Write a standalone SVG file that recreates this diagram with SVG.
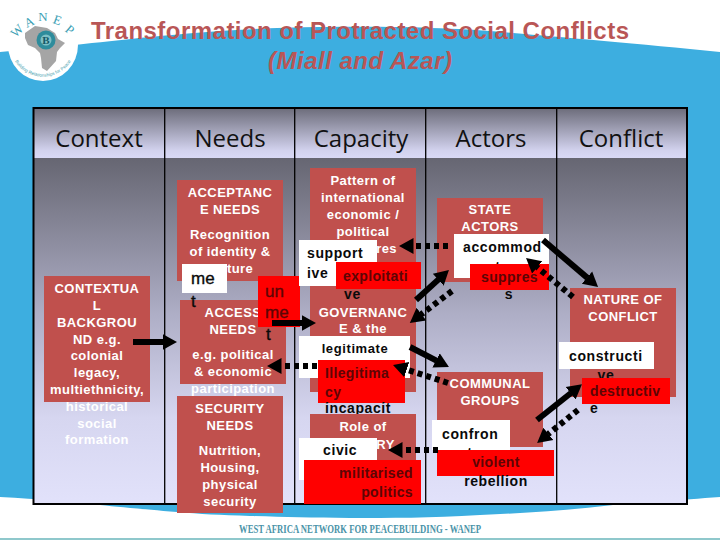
<svg xmlns="http://www.w3.org/2000/svg" width="720" height="540" viewBox="0 0 720 540">
<style>
text{font-family:"Liberation Sans",Arial,sans-serif}
.t{font-size:24px;font-weight:700;fill:#b95656;text-anchor:middle}
.h{font-family:"Open Sans","Noto Sans",sans-serif;font-size:24px;fill:#111;text-anchor:middle}
.b{fill:#c0504d}
.w{fill:#fff}
.r{fill:#f00}
.n{font-size:13px;font-weight:700;fill:#fff;text-anchor:middle;letter-spacing:.45px}
.k{font-size:14px;font-weight:700;fill:#0a0a0a;letter-spacing:.6px}
.d{font-size:14px;font-weight:700;fill:#5c0505;letter-spacing:.35px}
.m{text-anchor:middle}
.e{text-anchor:end}
.g{font-size:17px;fill:#0a0a0a;stroke:#0a0a0a;stroke-width:.35px}
.u{fill:#5c0505;stroke:#5c0505}
.s{fill:none;stroke:#000;stroke-width:6}
.o{stroke-dasharray:5 4}
.col{stroke:#000;stroke-width:1.3}
.lg{font-family:"Liberation Serif",serif;font-size:12px;fill:#3d9fb5;text-anchor:middle}
</style>
<defs>
<linearGradient id="hd" x1="0" y1="108" x2="0" y2="158" gradientUnits="userSpaceOnUse"><stop offset="0" stop-color="#6c6c7a"/><stop offset=".85" stop-color="#d2d2ee"/><stop offset="1" stop-color="#d9d9f6"/></linearGradient>
<linearGradient id="bd" x1="0" y1="158" x2="0" y2="505" gradientUnits="userSpaceOnUse"><stop offset="0" stop-color="#666672"/><stop offset=".45" stop-color="#aeaec6"/><stop offset=".75" stop-color="#d6d6f0"/><stop offset="1" stop-color="#e2e2fb"/></linearGradient>
<marker id="ah" markerUnits="userSpaceOnUse" markerWidth="16" markerHeight="20" refX="0.5" refY="10" orient="auto"><path d="M0 2L14.5 10L0 18Z" fill="#000"/></marker>
<path id="arcb" d="M12 55A33 33 0 0 0 74 55"/>
</defs>
<rect width="720" height="540" fill="#fff"/>
<path d="M0 52C60 47 90 43 150 37C200 32 250 28 320 27C400 26 460 28 513 33C560 37 640 44 720 52V497C680 500 640 503 613 505C570 510 530 513 480 515C430 518 390 518 350 518C310 518 283 517 250 516C220 515 200 514 177 512C140 509 120 507 100 505C70 502 40 499 0 497Z" fill="#3daee0"/>
<rect y="538" width="720" height="2" fill="#8fc8cc"/>
<g id="logo">
<ellipse cx="43" cy="45" rx="35" ry="36" fill="#fff"/>
<path d="M25 33L35 26L47 28L55 33L58 39L65 43L60 48L57 52L56 61L47 71L42 68L41 58L40 53L35 48L28 45L25 38Z" fill="#a5a5a5"/>
<circle cx="46" cy="40" r="9.500" fill="#2e8c9c"/>
<circle cx="46" cy="40" r="5.500" fill="#7fc0c6"/>
<text class="lg" x="46" y="44" font-weight="700" style="font-size:11px;fill:#145a68">B</text>
<text class="lg" x="20" y="34" transform="rotate(-45 20 34)" style="font-size:13px">W</text>
<text class="lg" x="31" y="26" transform="rotate(-25 31 26)" style="font-size:13px">A</text>
<text class="lg" x="43" y="21" style="font-size:13px">N</text>
<text class="lg" x="56" y="24" transform="rotate(20 56 24)" style="font-size:13px">E</text>
<text class="lg" x="67" y="33" transform="rotate(40 67 33)" style="font-size:13px">P</text>
<text style="font-size:4.6px;fill:#4a9fb0" text-anchor="middle"><textPath href="#arcb" startOffset="50%">Building Relationships for Peace</textPath></text>
</g>
<g id="title">
<text class="t" x="360" y="39" textLength="538">Transformation of Protracted Social Conflicts</text>
<text class="t" x="360" y="69" font-style="italic" textLength="184">(Miall and Azar)</text>
</g>
<g id="table">
<rect x="33.500" y="108" width="653.500" height="50" fill="url(#hd)"/>
<rect x="33.500" y="158" width="653.500" height="346" fill="url(#bd)"/>
<rect x="33.500" y="108" width="653.500" height="396" fill="none" stroke="#000" stroke-width="2"/>
<path class="col" d="M164.700 108V504M294.700 108V504M425.700 108V504M556.700 108V504"/>
<text class="h" x="99" y="147">Context</text>
<text class="h" x="230" y="147">Needs</text>
<text class="h" x="361" y="147">Capacity</text>
<text class="h" x="491" y="147">Actors</text>
<text class="h" x="621" y="147">Conflict</text>
</g>
<g id="context">
<rect class="b" x="44" y="276" width="106" height="126"/>
<text class="n" x="97" y="293">CONTEXTUA</text><text class="n" x="97" y="310">L</text><text class="n" x="97" y="327">BACKGROU</text><text class="n" x="97" y="344">ND e.g.</text><text class="n" x="97" y="360">colonial</text><text class="n" x="97" y="377">legacy,</text><text class="n" x="97" y="394">multiethnicity,</text><text class="n" x="97" y="411">historical</text><text class="n" x="97" y="428">social</text><text class="n" x="97" y="444">formation</text>
</g>
<g id="acceptance">
<rect class="b" x="177" y="180" width="106" height="101"/>
<text class="n" x="230" y="197">ACCEPTANC</text><text class="n" x="230" y="214">E NEEDS</text><text class="n" x="230" y="239">Recognition</text><text class="n" x="230" y="256">of identity &amp;</text><text class="n" x="230" y="273">culture</text>
</g>
<g id="access">
<rect class="b" x="180" y="300" width="106" height="84"/>
<text class="n" x="233" y="317">ACCESS</text><text class="n" x="233" y="334">NEEDS</text><text class="n" x="233" y="359">e.g. political</text><text class="n" x="233" y="376">&amp; economic</text><text class="n" x="233" y="393">participation</text>
</g>
<g id="met">
<rect class="w" x="182" y="264" width="45" height="29"/>
<text class="g" x="191" y="284">me</text><text class="g" x="191" y="307">t</text>
</g>
<g id="unmet">
<rect class="r" x="258" y="276" width="42" height="51"/>
<text class="g u" x="265" y="297">un</text><text class="g u" x="265" y="318">me</text><text class="g" x="266" y="340">t</text>
</g>
<g id="security">
<rect class="b" x="177" y="396" width="106" height="117"/>
<text class="n" x="230" y="413">SECURITY</text><text class="n" x="230" y="430">NEEDS</text><text class="n" x="230" y="455">Nutrition,</text><text class="n" x="230" y="472">Housing,</text><text class="n" x="230" y="489">physical</text><text class="n" x="230" y="506">security</text>
</g>
<g id="pattern">
<rect class="b" x="310" y="168" width="106" height="104"/>
<text class="n" x="363" y="185">Pattern of</text><text class="n" x="363" y="202">international</text><text class="n" x="363" y="219">economic /</text><text class="n" x="363" y="236">political</text><text class="n" x="363" y="253">structures</text>
</g>
<g id="governance">
<rect class="b" x="310" y="272" width="106" height="120"/>
<text class="n" x="363" y="317">GOVERNANC</text><text class="n" x="363" y="333">E &amp; the</text>
</g>
<g id="supportive">
<rect class="w" x="299" y="240" width="78" height="46"/>
<text class="k" x="307" y="258">support</text><text class="k" x="307" y="278">ive</text>
</g>
<g id="exploitative">
<rect class="r" x="336" y="262" width="85" height="27"/>
<text class="d" x="343" y="281">exploitati</text><text class="k" x="344" y="299">ve</text>
</g>
<g id="legitimate">
<rect class="w" x="299" y="336" width="111" height="42"/>
<text class="k m" x="355" y="353" style="font-size:13px">legitimate</text>
</g>
<g id="illegitimacy">
<rect class="r" x="318" y="360" width="87" height="43"/>
<text class="d" x="325" y="378">Illegitima</text><text class="d" x="325" y="397">cy</text><text class="k" x="325" y="413">incapacit</text><text class="k" x="325" y="432">y</text>
</g>
<g id="military">
<rect class="b" x="310" y="414" width="106" height="86"/>
<text class="n" x="363" y="431">Role of</text><text class="n" x="363" y="449">MILITARY</text>
</g>
<g id="civic">
<rect class="w" x="299" y="438" width="78" height="42"/>
<text class="k" x="323" y="455">civic</text>
</g>
<g id="militarised">
<rect class="r" x="304" y="460" width="117" height="44"/>
<text class="d e" x="413" y="478">militarised</text><text class="d e" x="413" y="497">politics</text>
</g>
<g id="state">
<rect class="b" x="437" y="198" width="106" height="84"/>
<text class="n" x="490" y="214">STATE</text><text class="n" x="490" y="231">ACTORS</text>
</g>
<g id="accommodates">
<rect class="w" x="454" y="234" width="95" height="44"/>
<text class="k" x="463" y="252">accommod</text><text class="k m" x="502" y="272">ates</text>
</g>
<g id="suppress">
<rect class="r" x="470" y="264" width="79" height="26"/>
<text class="d" x="481" y="282">suppres</text><text class="k m" x="509" y="299">s</text>
</g>
<g id="communal">
<rect class="b" x="437" y="372" width="106" height="75"/>
<text class="n" x="490" y="388">COMMUNAL</text><text class="n" x="490" y="405">GROUPS</text>
</g>
<g id="confront">
<rect class="w" x="432" y="420" width="78" height="30"/>
<text class="k" x="442" y="439">confron</text><text class="k m" x="470" y="458">t</text>
</g>
<g id="violent">
<rect class="r" x="437" y="450" width="117" height="26"/>
<text class="d m" x="496" y="467">violent</text><text class="k m" x="496" y="486">rebellion</text>
</g>
<g id="nature">
<rect class="b" x="570" y="288" width="106" height="109"/>
<text class="n" x="623" y="304">NATURE OF</text><text class="n" x="623" y="321">CONFLICT</text>
</g>
<g id="constructive">
<rect class="w" x="559" y="342" width="95" height="27"/>
<text class="k" x="569" y="361">constructi</text><text class="k m" x="606" y="380">ve</text>
</g>
<g id="destructive">
<rect class="r" x="582" y="378" width="88" height="26"/>
<text class="d" x="590" y="396">destructiv</text><text class="k" x="590" y="413">e</text>
</g>
<g id="connectors">
<path class="s" marker-end="url(#ah)" d="M133 342H163"/>
<path class="s" marker-end="url(#ah)" d="M272 323H302"/>
<path class="s" marker-end="url(#ah)" d="M416 300L438.600 279.400"/>
<path class="s" marker-end="url(#ah)" d="M410 347L436.500 360.600"/>
<path class="s" marker-end="url(#ah)" d="M543 240L587.400 277.900"/>
<path class="s" marker-end="url(#ah)" d="M537 420L571 393"/>
<path class="s o" marker-end="url(#ah)" d="M317 366H281"/>
<path class="s o" marker-end="url(#ah)" d="M448 246H413"/>
<path class="s o" marker-end="url(#ah)" d="M452 291L421 314.500"/>
<path class="s o" marker-end="url(#ah)" d="M448 383L406.300 369.400"/>
<path class="s o" marker-end="url(#ah)" d="M438 450H402"/>
<path class="s o" marker-end="url(#ah)" d="M573 297L536.800 267"/>
<path class="s o" marker-end="url(#ah)" d="M578 410L548 434.200"/>
</g>
<text class="lg" x="360" y="533" font-weight="700" style="font-size:13px;fill:#4a93a8" textLength="242" lengthAdjust="spacingAndGlyphs">WEST AFRICA NETWORK FOR PEACEBUILDING - WANEP</text>
</svg>
